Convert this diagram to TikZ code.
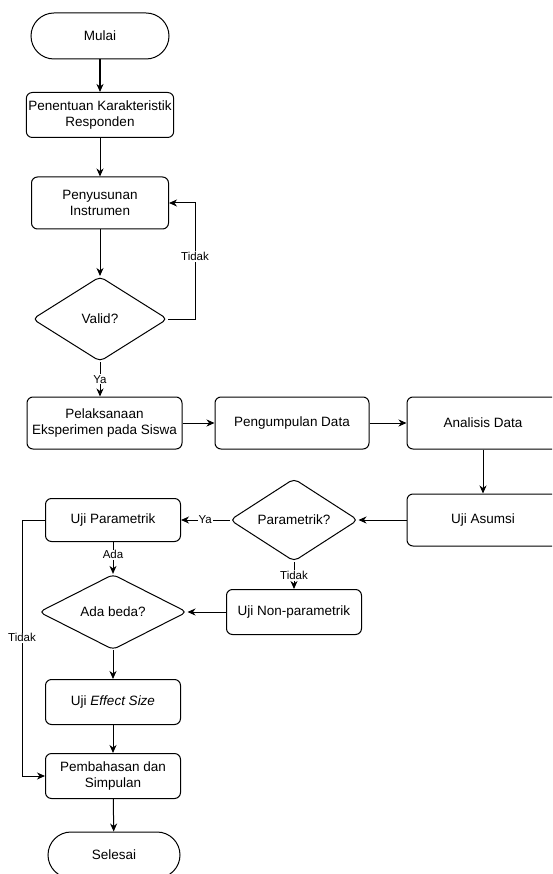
\documentclass[tikz,border=0pt]{standalone}
\usepackage{fontspec}
\setmainfont{Liberation Sans}
\usetikzlibrary{shapes.geometric,shapes.misc,arrows.meta}

\begin{document}
\begin{tikzpicture}[x=1pt,y=-1pt,>={Stealth[length=8pt,width=7pt,inset=2.5pt]},
	every node/.style={font=\fontsize{13.5}{16.5}\selectfont,align=center,inner sep=2pt},
	box/.style={draw,rectangle,rounded corners=6pt,line width=1pt},
	term/.style={draw,rounded rectangle,line width=1pt},
	ask/.style={draw,diamond,rounded corners=5pt,line width=1pt,inner sep=0pt},
	lbl/.style={fill=white,inner sep=1pt,font=\fontsize{11.5}{13}\selectfont},
	line/.style={->,line width=1pt}]
		\clip (0,0) rectangle (552,874);
		% upper column
		\node[term,minimum width=142pt,minimum height=46pt] (mulai) at (100,36) {Mulai};
		\node[box,minimum width=147pt,minimum height=45pt] (penentuan) at (100,115) {Penentuan Karakteristik\\Responden};
		\node[box,minimum width=137pt,minimum height=52pt] (penyusunan) at (100,203) {Penyusunan\\Instrumen};
		\node[ask,minimum width=135pt,minimum height=85pt] (valid) at (100,319) {Valid?};
		% middle row
		\node[box,minimum width=155pt,minimum height=52pt] (pelaksanaan) at (104.5,423) {Pelaksanaan\\Eksperimen pada Siswa};
		\node[box,minimum width=154pt,minimum height=52pt] (pengumpulan) at (292,423) {Pengumpulan Data};
		\node[box,minimum width=152pt,minimum height=52pt] (analisis) at (483,423) {Analisis Data};
		\node[box,minimum width=152pt,minimum height=52pt] (asumsi) at (483,520) {Uji Asumsi};
		% tests
		\node[ask,minimum width=128pt,minimum height=60pt] (parametrik) at (294,520) {Parametrik?};
		\node[box,minimum width=135pt,minimum height=43pt] (ujipar) at (113,520) {Uji Parametrik};
		\node[box,minimum width=135pt,minimum height=45pt] (nonpar) at (294,612) {Uji Non-parametrik};
		\node[ask,minimum width=148pt,minimum height=65pt] (beda) at (113,612) {Ada beda?};
		\node[box,minimum width=135pt,minimum height=45pt] (effect) at (113,702) {Uji \textit{Effect Size}};
		\node[box,minimum width=135pt,minimum height=45pt] (bahas) at (113,776) {Pembahasan dan\\Simpulan};
		\node[term,minimum width=136pt,minimum height=46pt] (selesai) at (114,855) {Selesai};

		\draw[line,line width=1.6pt] (mulai) -- (penentuan);
		\draw[line] (penentuan) -- (penyusunan);
		\draw[line] (penyusunan) -- (valid);
		\draw[line] (valid.south) -- node[lbl]{Ya} (valid.south |- pelaksanaan.north);
		\draw[line] (valid.east) -- ++(27,0) |- node[lbl,pos=0.27]{Tidak} (penyusunan.east);
		\draw[line] (pelaksanaan) -- (pengumpulan);
		\draw[line] (pengumpulan) -- (analisis);
		\draw[line] (analisis) -- (asumsi);
		\draw[line] (asumsi) -- (parametrik);
		\draw[line] (parametrik) -- node[lbl]{Ya} (ujipar);
		\draw[line] (parametrik) -- node[lbl]{Tidak} (nonpar);
		\draw[line] (nonpar) -- (beda);
		\draw[line] (ujipar) -- node[lbl,pos=0.4]{Ada} (beda);
		\draw[line] (ujipar.west) -- ++(-23,0) |- node[lbl,pos=0.23]{Tidak} (bahas.west);
		\draw[line] (beda) -- (effect);
		\draw[line] (effect) -- (bahas);
		\draw[line] (bahas) -- (selesai);
\end{tikzpicture}
\end{document}
